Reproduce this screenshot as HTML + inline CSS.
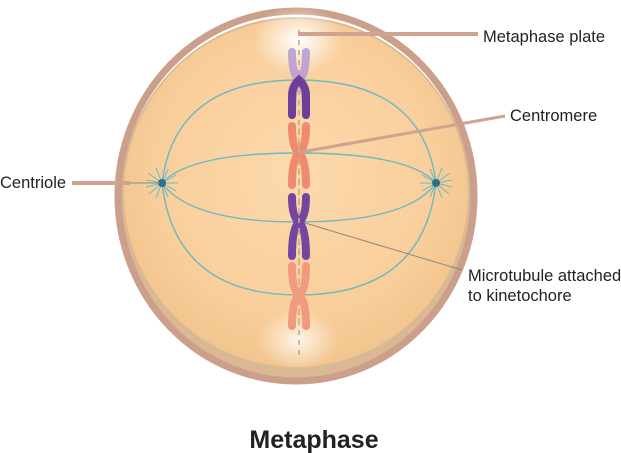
<!DOCTYPE html>
<html><head><meta charset="utf-8"><style>
html,body{margin:0;padding:0;background:#fff;}
svg{display:block}
text{font-family:"Liberation Sans",Arial,sans-serif;fill:#222}
</style></head><body>
<svg width="621" height="453" viewBox="0 0 621 453" xmlns="http://www.w3.org/2000/svg">
<defs>
<radialGradient id="cell" cx="50%" cy="45%" r="55%">
<stop offset="0" stop-color="#fcd9ad"/>
<stop offset="0.7" stop-color="#f9cf9c"/>
<stop offset="1" stop-color="#f3c58e"/>
</radialGradient>
<radialGradient id="glowT" cx="50%" cy="50%" r="50%">
<stop offset="0" stop-color="#fff" stop-opacity="1"/>
<stop offset="1" stop-color="#fff" stop-opacity="0"/>
</radialGradient>
</defs>
<ellipse cx="296" cy="200" rx="176" ry="183" fill="#d9b893"/>
<ellipse cx="296" cy="196" rx="178" ry="185" fill="none" stroke="#cc9f8a" stroke-width="7"/>
<ellipse cx="296" cy="193" rx="172" ry="174" fill="url(#cell)"/>
<ellipse cx="298" cy="40" rx="45" ry="35" fill="url(#glowT)"/>
<ellipse cx="298" cy="340" rx="40" ry="30" fill="url(#glowT)" opacity="0.8"/>
<g fill="none" stroke="#6fb9bf" stroke-width="1.4">
<path d="M162 183 Q175 80 298 80 Q423 80 436 183"/>
<path d="M162 183 Q175 295 298 295 Q423 295 436 183"/>
<path d="M162 183 Q190 153 298 153 Q408 153 436 183"/>
<path d="M162 183 Q190 222 298 222 Q408 222 436 183"/>
</g>
<g stroke="#6fb9bf" stroke-width="1" fill="none">
<path d="M162 183 l-14 -10 M162 183 l-16 -3 M162 183 l-16 4 M162 183 l-13 11 M162 183 l-6 -15 M162 183 l-6 15 M162 183 l6 -14 M162 183 l6 14 M162 183 l14 -8 M162 183 l14 8 M162 183 l16 0"/>
<path d="M436 183 l14 -10 M436 183 l16 -3 M436 183 l16 4 M436 183 l13 11 M436 183 l6 -15 M436 183 l6 15 M436 183 l-6 -14 M436 183 l-6 14 M436 183 l-14 -8 M436 183 l-14 8 M436 183 l-16 0"/>
</g>
<circle cx="162" cy="183" r="4" fill="#2e6f86"/><circle cx="436" cy="183" r="4" fill="#2e6f86"/>
<line x1="299" y1="30" x2="299" y2="360" stroke="#b8a88a" stroke-width="1.5" stroke-dasharray="5 5"/>
<g fill="none" stroke-width="8" stroke-linecap="round">
<g stroke="#b69ad6" opacity="0.85"><path d="M292 52 Q292 75 299 80 Q292 86 292 115"/><path d="M306 52 Q306 75 299 80 Q306 86 306 115"/></g>
<path stroke="#6d3f98" d="M292 96 Q292 86 299 80 Q306 86 306 96 M292 96 L292 115 M306 96 L306 115"/>
<g stroke="#f08a6f"><path d="M292 126 Q292 148 299 153 Q292 159 292 185"/><path d="M306 126 Q306 148 299 153 Q306 159 306 185"/></g>
<g stroke="#7446a0"><path d="M292 197 Q292 217 299 222 Q292 228 292 256"/><path d="M306 197 Q306 217 299 222 Q306 228 306 256"/></g>
<g stroke="#f29a80"><path d="M292 266 Q292 290 299 295 Q292 301 292 326"/><path d="M306 266 Q306 290 299 295 Q306 301 306 326"/></g>
</g>
<line x1="299" y1="128" x2="299" y2="325" stroke="#c8b38a" stroke-width="1.5" stroke-dasharray="5 5"/>
<line x1="298" y1="34" x2="478" y2="34" stroke="#cfa38f" stroke-width="4"/>
<line x1="301" y1="152" x2="505" y2="116" stroke="#cfa38f" stroke-width="3"/>
<line x1="72" y1="183" x2="130" y2="183" stroke="#cfa38f" stroke-width="4"/>
<line x1="130" y1="183" x2="160" y2="183" stroke="#8a8a8a" stroke-width="1"/>
<line x1="305" y1="223" x2="462" y2="270" stroke="#8a8a80" stroke-width="1"/>
<text x="483" y="42" font-size="16.5">Metaphase plate</text>
<text x="510" y="121" font-size="16.5">Centromere</text>
<text x="0" y="188" font-size="16.5">Centriole</text>
<text x="468" y="281" font-size="16.5">Microtubule attached</text>
<text x="468" y="301" font-size="16.5">to kinetochore</text>
<text x="314" y="448" font-size="25" font-weight="bold" text-anchor="middle">Metaphase</text>
</svg>
</body></html>
